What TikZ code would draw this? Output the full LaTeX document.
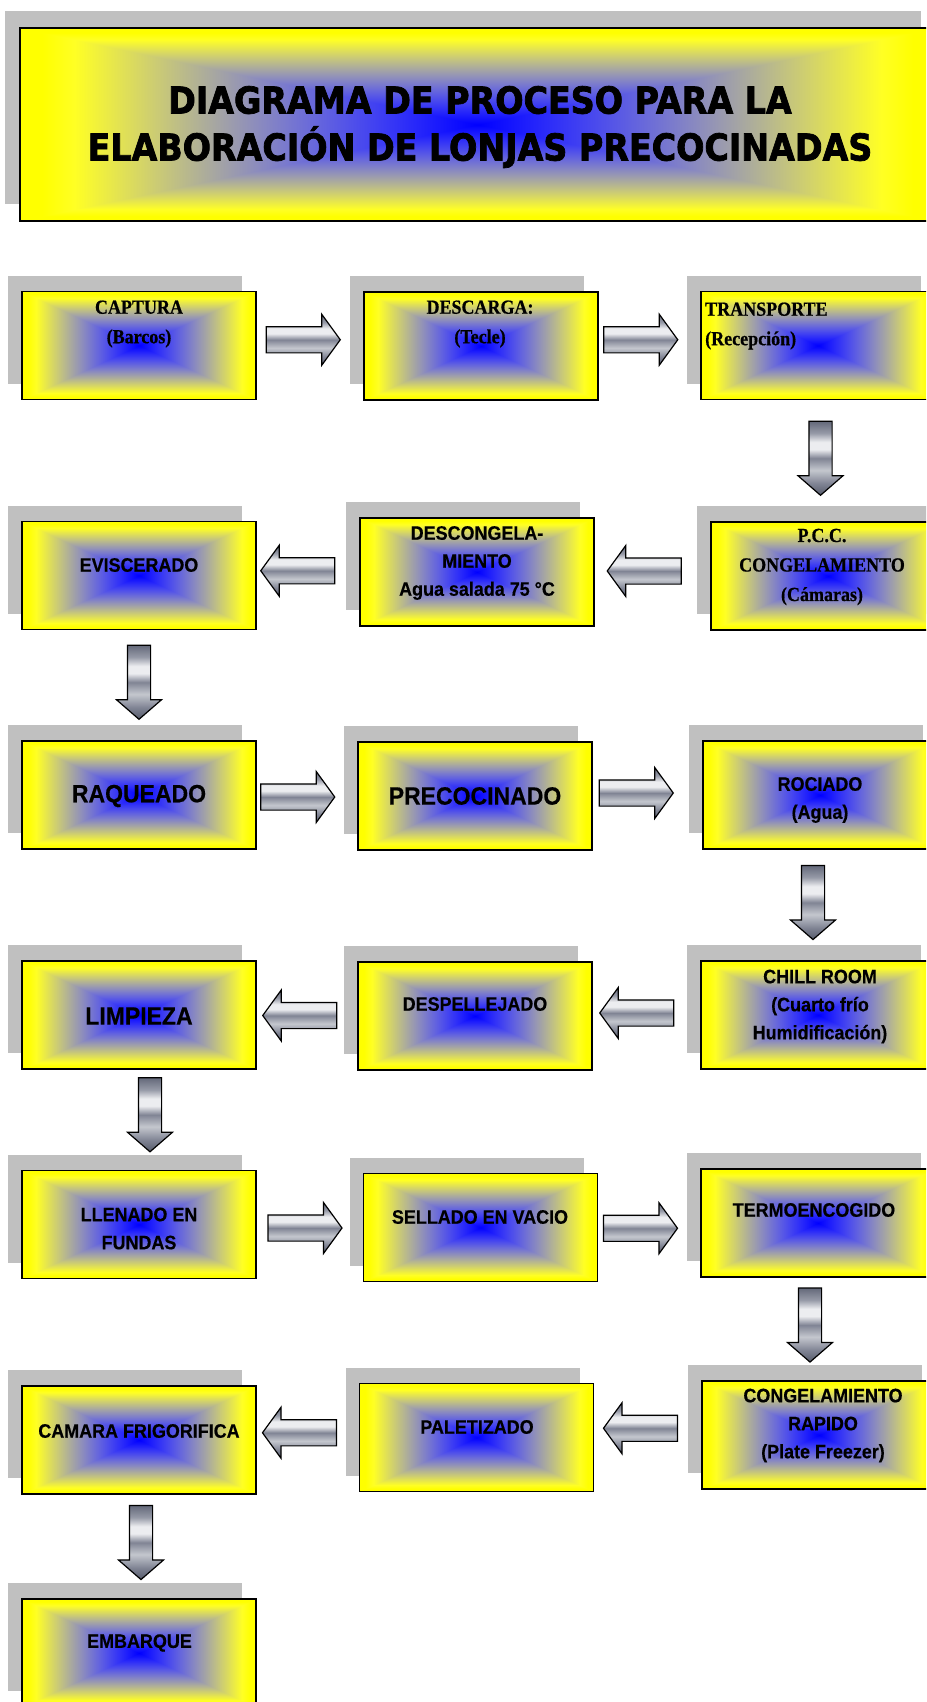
\documentclass[tikz,border=0pt]{standalone}
\usepackage{fontspec}
\newfontfamily\titlefont[FakeStretch=0.9, FakeBold=2]{DejaVu Sans}
\newfontfamily\stagesans[FakeStretch=0.92, FakeBold=0.4]{Liberation Sans}
\newfontfamily\stageserif[FakeStretch=0.9, FakeBold=0.6]{Liberation Serif}
\usetikzlibrary{calc,shapes.arrows,shadows}
\definecolor{procshadow}{HTML}{C0C0C0}
\definecolor{metalA}{RGB}{85,90,106}
\definecolor{metalB}{RGB}{128,132,148}
\definecolor{metalC}{RGB}{196,199,206}
\definecolor{metalD}{RGB}{236,237,240}
\definecolor{metalE}{RGB}{150,154,167}
\definecolor{metalF}{RGB}{100,105,122}
% yellow edge -> blue centre, rectangular
\pgfdeclarefunctionalshading{rectfade}{\pgfpoint{0bp}{0bp}}{\pgfpoint{100bp}{100bp}}{}{
  50 sub abs exch 50 sub abs
  2 copy lt {exch} if pop
  25 div dup 1 gt {pop 1} if
  dup 0.88 div dup 1 gt {pop 1} if
  exch 0.95 div dup mul 1 exch sub dup 0 lt {pop 0} if
  exch dup 3 -1 roll
}
\pgfdeclareverticalshading{metal}{100bp}{color(0bp)=(metalA); color(25bp)=(metalA);
  color(33bp)=(metalB); color(42bp)=(metalC); color(50bp)=(metalB); color(56bp)=(metalD);
  color(61bp)=(metalD); color(67bp)=(metalE); color(75bp)=(metalF); color(100bp)=(metalF)}

\begin{document}
\begin{tikzpicture}[x=1pt, y=-1pt,
    titlebox/.style={rectangle, draw=black, line width=2pt, shade, shading=rectfade,
                     minimum width=916.5pt, minimum height=193pt, inner sep=0pt,
                     drop shadow={shadow xshift=-15pt, shadow yshift=17pt, fill=procshadow, opacity=1}},
    titletext/.style={font=\titlefont\bfseries\fontsize{37}{47}\selectfont, align=center, inner sep=0pt},
    stage/.style   ={rectangle, draw=black, line width=1.5pt, shade, shading=rectfade,
                     minimum width=234pt, minimum height=108pt, inner sep=0pt,
                     drop shadow={shadow xshift=-14pt, shadow yshift=16pt, fill=procshadow, opacity=1}},
    tlbl/.style  ={font=\stageserif\bfseries\fontsize{20}{29.5}\selectfont, align=center, inner sep=0pt},
    albl/.style  ={font=\stagesans\bfseries\fontsize{19.5}{28}\selectfont, align=center, inner sep=0pt},
    biglbl/.style={font=\stagesans\bfseries\fontsize{25}{30}\selectfont, align=center, inner sep=0pt},
    flowbase/.style={single arrow, draw=black, line width=1.2pt, shade, shading=metal, inner sep=12.5pt,
                  minimum height=74pt, single arrow head extend=12.5pt,
                  single arrow tip angle=108},
    rflow/.style={flowbase, xshift=-4.5pt},
    lflow/.style={flowbase, shape border rotate=180, xshift=4.5pt},
    dflow/.style={flowbase, shape border rotate=270, inner sep=11pt, yshift=2.5pt,
                  single arrow head extend=11pt, single arrow tip angle=98},
  ]

  \useasboundingbox (0,0) rectangle (926,1702);
  \fill[white] (0,0) rectangle (926,1702);
  \clip (0,0) rectangle (926,1702);

  \node[titlebox] (ttl) at (477.75,124.5) {};
  \node[titletext] (ttlT) at (480,127)
    {DIAGRAMA DE PROCESO PARA LA\\ELABORACIÓN DE LONJAS PRECOCINADAS};

  % stages
  \node[stage] (cap) at (139,345.5) {};
  \node[stage] (des) at (481,346) {};
  \node[stage] (tra) at (818,345.5) {};
  \node[stage] (evi) at (139,575.5) {};
  \node[stage] (dsc) at (477,572) {};
  \node[stage] (pcc) at (828,576) {};
  \node[stage] (raq) at (139,795) {};
  \node[stage] (pre) at (475,796) {};
  \node[stage] (roc) at (820,795) {};
  \node[stage] (lim) at (139,1015) {};
  \node[stage] (dsp) at (475,1016) {};
  \node[stage] (chi) at (818,1015) {};
  \node[stage] (lle) at (139,1224.5) {};
  \node[stage] (sel) at (480.5,1227.5) {};
  \node[stage] (ter) at (818,1223) {};
  \node[stage] (cam) at (139,1440) {};
  \node[stage] (pal) at (476.5,1437.5) {};
  \node[stage] (con) at (819,1435) {};
  \node[stage] (emb) at (139,1653) {};

  % labels
  \node[tlbl] (capT) at (139,324) {CAPTURA\\(Barcos)};
  \node[tlbl] (desT) at (480,324) {DESCARGA:\\(Tecle)};
  \node[tlbl, anchor=west, align=left] (traT) at (705,326) {TRANSPORTE\\(Recepción)};
  \node[albl] (eviT) at (139,565) {EVISCERADO};
  \node[albl] (dscT) at (477,563) {DESCONGELA-\\MIENTO\\Agua salada 75 °C};
  \node[tlbl] (pccT) at (822,567) {P.C.C.\\CONGELAMIENTO\\(Cámaras)};
  \node[biglbl] (raqT) at (139,796) {RAQUEADO};
  \node[biglbl] (preT) at (475,796) {PRECOCINADO};
  \node[albl] (rocT) at (820,800) {ROCIADO\\(Agua)};
  \node[biglbl] (limT) at (139,1016) {LIMPIEZA};
  \node[albl] (dspT) at (475,1004) {DESPELLEJADO};
  \node[albl] (chiT) at (820,1006.5) {CHILL ROOM\\(Cuarto frío\\Humidificación)};
  \node[albl] (lleT) at (139,1228.5) {LLENADO EN\\FUNDAS};
  \node[albl] (selT) at (480,1217) {SELLADO EN VACIO};
  \node[albl] (terT) at (814,1210) {TERMOENCOGIDO};
  \node[albl] (camT) at (139,1431) {CAMARA FRIGORIFICA};
  \node[albl] (palT) at (477,1427) {PALETIZADO};
  \node[albl] (conT) at (823,1425.5) {CONGELAMIENTO\\RAPIDO\\(Plate Freezer)};
  \node[albl] (embT) at (139.5,1643) {EMBARQUE};

  % block arrows between stages
  \node[rflow] (f1)  at ($(cap.east)!.5!(des.west)+(-7,-6)$) {};
  \node[rflow] (f2)  at ($(des.east)!.5!(tra.west)+(-9,-6)$) {};
  \node[dflow] (f3)  at ($(tra.south)!.5!(pcc.north)+(-2.5,-5)$) {};
  \node[lflow] (f4)  at ($(pcc.west)!.5!(dsc.east)+(-8,-3)$) {};
  \node[lflow] (f5)  at ($(dsc.west)!.5!(evi.east)+(-10,-3)$) {};
  \node[dflow] (f6)  at ($(evi.south)!.5!(raq.north)+(0,-5.5)$) {};
  \node[rflow] (f7)  at ($(raq.east)!.5!(pre.west)+(-9.5,1.5)$) {};
  \node[rflow] (f8)  at ($(pre.east)!.5!(roc.west)+(-11.5,-2.5)$) {};
  \node[dflow] (f9)  at ($(roc.south)!.5!(chi.north)+(-6,-5)$) {};
  \node[lflow] (f10) at ($(chi.west)!.5!(dsp.east)+(-9.5,-2.5)$) {};
  \node[lflow] (f11) at ($(dsp.west)!.5!(lim.east)+(-7,0)$) {};
  \node[dflow] (f12) at ($(lim.south)!.5!(lle.north)+(11,-7.5)$) {};
  \node[rflow] (f13) at ($(lle.east)!.5!(sel.west)+(-5,2)$) {};
  \node[rflow] (f14) at ($(sel.east)!.5!(ter.west)+(-9,3)$) {};
  \node[dflow] (f15) at ($(ter.south)!.5!(con.north)+(-8.5,-6.5)$) {};
  \node[lflow] (f16) at ($(con.west)!.5!(pal.east)+(-7,-8)$) {};
  \node[lflow] (f17) at ($(pal.west)!.5!(cam.east)+(-8,-6)$) {};
  \node[dflow] (f18) at ($(cam.south)!.5!(emb.north)+(2,-6.5)$) {};

\end{tikzpicture}
\end{document}
